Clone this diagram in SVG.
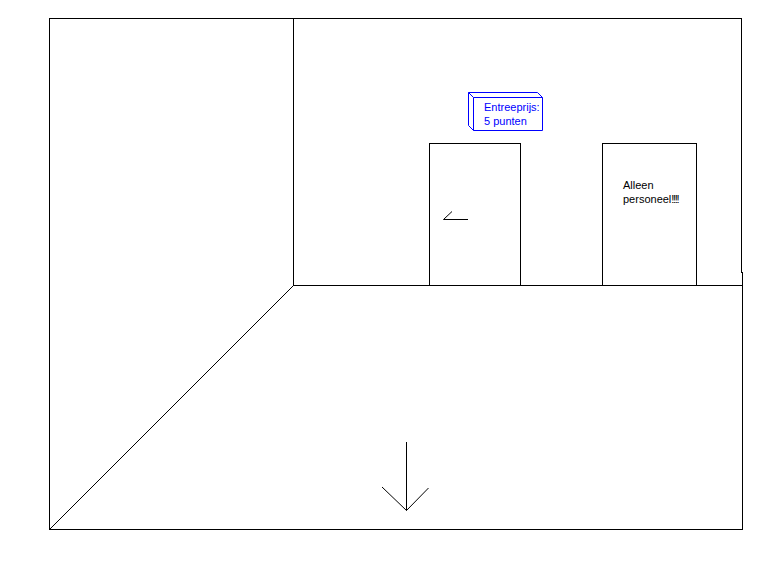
<svg xmlns="http://www.w3.org/2000/svg" width="774" height="585" viewBox="0 0 774 585">
<style>
.ln{stroke:#000;stroke-width:1;fill:none;shape-rendering:crispEdges}
.dg{stroke:#000;stroke-width:1;fill:none}
.bx{stroke:#0000ff;stroke-width:1;fill:none}
.t{font-family:"Liberation Sans",Arial,sans-serif;font-size:11px}
</style>
<rect width="774" height="585" fill="#fff"/>
<g id="room">
<path class="ln" d="M49.5 529.5V18.5H741.5V272.5"/>
<path class="ln" d="M742.5 272V529.5H49.5"/>
<path class="ln" d="M293.5 18.5V285.5H742.5"/>
<path class="dg" d="M293.5 285.5L49.5 529.5"/>
</g>
<g id="sign">
<path class="bx" d="M473.5 97.5H542.5V130.5H473.5Z M468.5 92.5H537.5L542.5 97.5 M468.5 92.5V125.5L473.5 130.5 M468.5 92.5L473.5 97.5"/>
<text class="t" x="484" y="111" fill="#0000ff">Entreeprijs:</text>
<text class="t" x="484" y="125" fill="#0000ff">5 punten</text>
</g>
<g id="door1">
<rect class="ln" x="429.5" y="143.5" width="91" height="142"/>
<path class="dg" d="M468 219.5H443.5L452 211.5"/>
</g>
<g id="door2">
<rect class="ln" x="602.5" y="143.5" width="94" height="142"/>
<text class="t" x="623" y="189" fill="#000">Alleen</text>
<text class="t" x="623" y="203" fill="#000">personeel<tspan letter-spacing="-1.3">!!!!</tspan></text>
</g>
<g id="connectors">
<path class="dg" d="M406.5 442V510.5"/>
<path class="dg" d="M382 487L406.5 510.5L428.5 488"/>
</g>
</svg>
